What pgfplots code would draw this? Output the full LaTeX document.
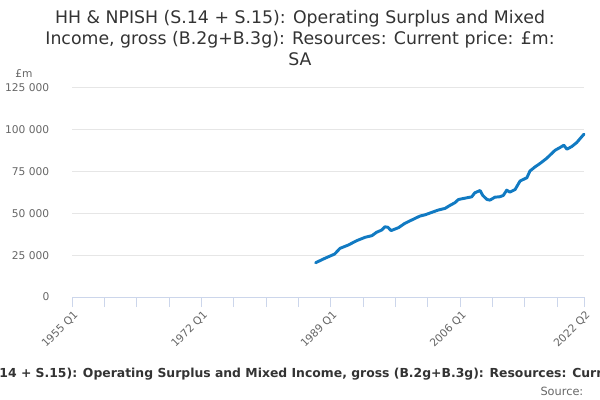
\documentclass[border=0pt]{standalone}
\usepackage{pgfplots}
\pgfplotsset{compat=1.18}
\usepackage{fontspec}
\setmainfont{DejaVu Sans}
\definecolor{linecol}{RGB}{17,122,194}
\definecolor{gridcol}{RGB}{230,230,230}
\definecolor{axiscol}{RGB}{204,214,235}
\definecolor{txt}{RGB}{51,51,51}
\definecolor{ticktxt}{RGB}{102,102,102}
\begin{document}
\begin{tikzpicture}
\useasboundingbox (0,0) rectangle (450pt,300pt);
\begin{axis}[
  at={(54pt,77.25pt)}, anchor=south west,
  scale only axis, width=384pt, height=156.75pt,
  xmin=1955, xmax=2022.25, ymin=0, ymax=125000,
  scaled y ticks=false,
  axis x line=bottom, axis y line=left,
  x axis line style={draw=axiscol, line width=0.75pt, -},
  y axis line style={draw=none},
  ytick={0,25000,50000,75000,100000,125000},
  yticklabels={0,25 000,50 000,75 000,100 000,125 000},
  ytick style={draw=none},
  ymajorgrids, major grid style={draw=gridcol, line width=0.75pt},
  xtick={1955,1972,1989,2006,2022.25},
  xticklabels={1955 Q1,1972 Q1,1989 Q1,2006 Q1,2022 Q2},
  minor xtick={1959.25,1963.5,1967.75,1976.25,1980.5,1984.75,1993.25,1997.5,2001.75,2010.25,2014.5,2018.75},
  xtick style={draw=axiscol, line width=0.75pt},
  xminorgrids=false,
  tick align=outside, major tick length=7.5pt, minor tick length=7.5pt,
  xticklabel style={rotate=45, anchor=east, font=\fontsize{8}{9}\selectfont, text=ticktxt, yshift=-5.5pt, xshift=2.5pt},
  yticklabel style={font=\fontsize{8}{9}\selectfont, text=ticktxt, anchor=east, xshift=-6pt},
  clip=false,
]
\addplot[color=linecol, line width=2.2pt, line join=round, line cap=round] coordinates {
(1987.0,20500) (1988.2,23100) (1989.5,25700) (1990.2,29100) (1991.3,31100)
(1992.4,33700) (1993.5,35700) (1994.4,36700) (1995.0,38700) (1995.7,40100)
(1996.1,42000) (1996.5,41700) (1996.9,39700) (1997.9,41500) (1998.7,44000)
(1999.6,46000) (2000.7,48400) (2001.4,49200) (2002.25,50600) (2003.1,52000)
(2004.0,53000) (2004.65,54800) (2005.3,56400) (2005.75,58300) (2006.6,59100)
(2007.5,59900) (2007.9,62300) (2008.6,63700) (2008.95,60750) (2009.5,58350)
(2009.9,57950) (2010.55,59700) (2011.2,59950) (2011.65,60750) (2012.1,63900)
(2012.5,62700) (2013.2,64300) (2013.85,69350) (2014.75,71350) (2015.15,75350)
(2015.8,77750) (2016.5,79950) (2017.35,82950) (2018.45,87750) (2019.1,89400)
(2019.6,90800) (2020.0,88400) (2020.65,90000) (2021.3,92400) (2021.75,94800)
(2022.25,97400)
};
\end{axis}
\node[anchor=base, text=txt, font=\fontsize{13}{15}\selectfont] at (225pt,282pt) {HH \& NPISH (S.14 + S.15): Operating Surplus and Mixed};
\node[anchor=base, text=txt, font=\fontsize{13}{15}\selectfont] at (225pt,266.25pt) {Income, gross (B.2g+B.3g): Resources: Current price: £m:};
\node[anchor=base, text=txt, font=\fontsize{13}{15}\selectfont] at (225pt,250.5pt) {SA};
\node[anchor=base west, text=ticktxt, font=\fontsize{8}{9}\selectfont] at (8pt,241.5pt) {£m};
\node[anchor=base, text=txt, font=\bfseries\fontsize{9.3}{11}\selectfont] at (232pt,16.5pt) {HH \& NPISH (S.14 + S.15): Operating Surplus and Mixed Income, gross (B.2g+B.3g): Resources: Current price: £m: SA};
\node[anchor=base east, text=ticktxt, font=\fontsize{8.5}{10}\selectfont] at (441pt,3.75pt) {Source:};
\end{tikzpicture}
\end{document}
